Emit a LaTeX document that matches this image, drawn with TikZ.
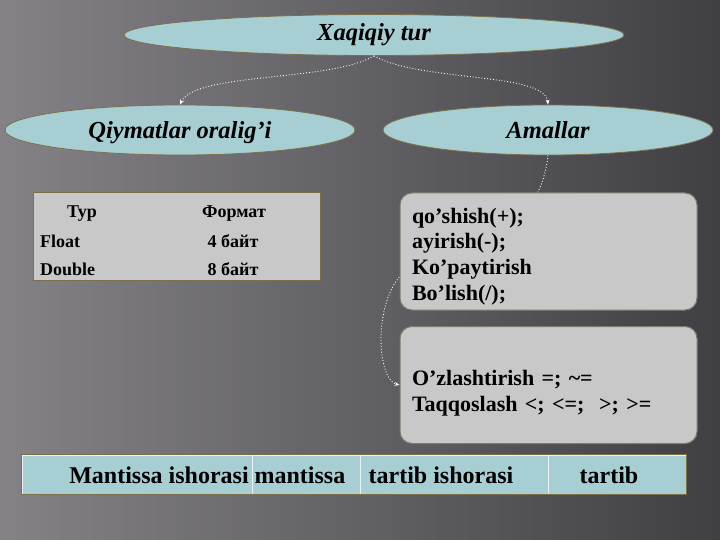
\documentclass[tikz,border=0pt]{standalone}
\usepackage{fontspec}
\setmainfont{Liberation Serif}
\usetikzlibrary{shapes.geometric,arrows.meta}
\definecolor{bgleft}{RGB}{132,130,135}
\definecolor{bgright}{RGB}{64,63,68}
\definecolor{teal}{RGB}{166,206,211}
\definecolor{paper}{RGB}{200,200,200}
\definecolor{olive}{RGB}{125,112,72}
\tikzset{
	oval/.style={ellipse,draw=olive,line width=0.8pt,fill=teal,inner sep=0pt,
		font=\fontsize{24.5}{28}\selectfont\bfseries\itshape},
	card/.style={draw=gray!70!olive,line width=1pt,fill=paper,rounded corners=12pt,
		minimum width=297pt,minimum height=117pt},
	cardtext/.style={text width=273pt,inner sep=0pt,align=left,
		font=\fontsize{22}{25.7}\selectfont\bfseries},
	cell/.style={draw=white!75!teal,line width=1pt,fill=teal,minimum height=39pt,inner sep=0pt},
	celltext/.style={font=\fontsize{24}{27}\selectfont\bfseries},
	tab/.style={font=\fontsize{18}{20}\selectfont\bfseries},
	link/.style={white,dotted,line width=0.9pt,-{Stealth[length=5pt,width=4pt]}}
}
\begin{document}
\begin{tikzpicture}[x=1pt,y=-1pt]
	\useasboundingbox (0,0) rectangle (720,540);
	\shade[left color=bgleft,right color=bgright] (0,0) rectangle (720,540);
	% ellipses
	\node[oval,minimum width=500pt,minimum height=41pt] (tur) at (374,35) {Xaqiqiy tur};
	\node[oval,minimum width=350pt,minimum height=50pt,text height=23pt,text depth=5.5pt] (oraliq) at (180,130) {Qiymatlar oralig’i};
	\node[oval,minimum width=330pt,minimum height=50pt,text height=23pt,text depth=5.5pt] (amal) at (548,130) {Amallar};
	\draw[link] (tur.south) .. controls (330,82) and (195,72) .. (oraliq.north);
	\draw[link] (tur.south) .. controls (420,82) and (545,72) .. (amal.north);
	% link behind the cards
	\coordinate (hid) at (430,262);
	\node[card] (ops2) at (548.5,385) {};
	\draw[link] (amal.south) .. controls (540,230) and (470,262) .. (hid)
		.. controls (372,262) and (372,378) .. (ops2.west);
	\node[card] (ops1) at (548.5,251.5) {};
	\node[cardtext] (ops1txt) at (548.5,256.5) {qo’shish(+);\\ayirish(-);\\Ko’paytirish\\Bo’lish(/);};
	\node[cardtext] (ops2txt) at (548.5,393) {O’zlashtirish =; \textasciitilde=\\Taqqoslash <; <=;\ \ >; >=};
	% table
	\node[draw=olive,line width=1pt,fill=paper,minimum width=287pt,minimum height=87pt] (jadval) at (176.5,236.5) {};
	\node[tab] (typ) at (82,214) {Typ};
	\node[tab] (fmt) at (234,214) {Формат};
	\node[tab,anchor=west,inner sep=0pt] (flt) at (40,241) {Float};
	\node[tab] (fsz) at (233,241) {4 байт};
	\node[tab,anchor=west,inner sep=0pt] (dbl) at (40,269) {Double};
	\node[tab] (dsz) at (233,269) {8 байт};
	% bottom bar
	\node[cell,minimum width=230pt] (c1) at (137,474.5) {};
	\node[cell,minimum width=108pt] (c2) at (306,474.5) {};
	\node[cell,minimum width=188pt] (c3) at (454,474.5) {};
	\node[cell,minimum width=138pt] (c4) at (617,474.5) {};
	\draw[olive,line width=1pt] (c1.north west) rectangle (c4.south east);
	\node[celltext] (t1) at (159,475) {Mantissa ishorasi};
	\node[celltext] (t2) at (300,475) {mantissa};
	\node[celltext] (t3) at (441,475) {tartib ishorasi};
	\node[celltext] (t4) at (609,475) {tartib};
\end{tikzpicture}
\end{document}
